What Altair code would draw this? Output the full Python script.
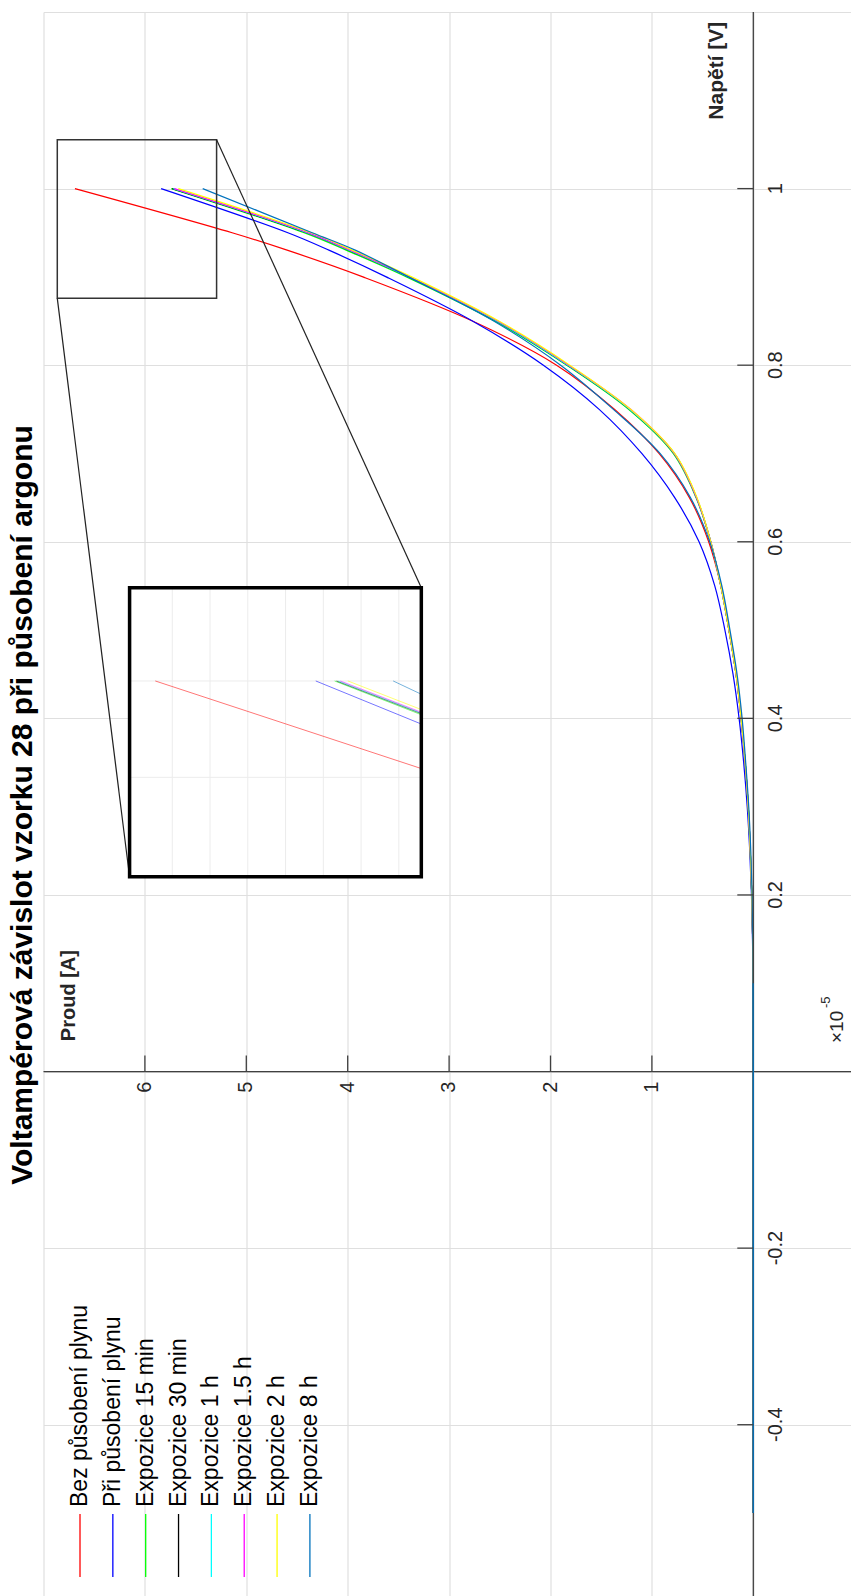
import altair as alt
import pandas as pd

# ---------------- data (current in units of 1e-5 A) ----------------
NAMES = ["Bez působení plynu", "Při působení plynu", "Expozice 15 min", "Expozice 30 min",
         "Expozice 1 h", "Expozice 1.5 h", "Expozice 2 h", "Expozice 8 h"]
COLORS = ["#ff0000", "#0000ff", "#00ff00", "#000000", "#00ffff", "#ff00ff", "#ffff00", "#0072bd"]

VOLT = [-0.5, -0.2, 0.0, 0.1, 0.15, 0.2, 0.25, 0.3, 0.35, 0.4, 0.45, 0.5, 0.55, 0.6, 0.65, 0.7,
        0.75, 0.8, 0.85, 0.9, 0.93, 0.95, 1.0]
I_RED = [0, 0, 0, 0.002, 0.006, 0.015, 0.03, 0.05, 0.08, 0.12, 0.17, 0.24, 0.32, 0.44, 0.63, 0.93,
         1.37, 1.94, 2.77, 3.85, 4.59, 5.14, 6.69]
I_BLUE = [0, 0, 0, 0.003, 0.008, 0.018, 0.035, 0.06, 0.095, 0.14, 0.20, 0.28, 0.38, 0.535, 0.775, 1.10,
          1.52, 2.07, 2.77, 3.62, 4.18, 4.59, 5.84]
I_15M = [0, 0, 0, 0.002, 0.006, 0.015, 0.03, 0.05, 0.08, 0.12, 0.17, 0.24, 0.32, 0.42, 0.565, 0.79,
         1.23, 1.84, 2.55, 3.42, 4.01, 4.43, 5.74]
I_30M = [0, 0, 0, 0.002, 0.006, 0.015, 0.03, 0.05, 0.08, 0.12, 0.17, 0.24, 0.32, 0.42, 0.56, 0.78,
         1.22, 1.83, 2.53, 3.40, 3.985, 4.405, 5.73]
I_1H = [0, 0, 0, 0.002, 0.006, 0.015, 0.03, 0.05, 0.08, 0.12, 0.17, 0.24, 0.32, 0.42, 0.56, 0.78,
        1.22, 1.83, 2.53, 3.40, 3.98, 4.40, 5.72]
I_15H = [0, 0, 0, 0.002, 0.006, 0.015, 0.03, 0.05, 0.08, 0.12, 0.17, 0.24, 0.32, 0.42, 0.56, 0.78,
         1.21, 1.82, 2.52, 3.39, 3.97, 4.39, 5.71]
I_2H = [0, 0, 0, 0.002, 0.006, 0.015, 0.03, 0.05, 0.08, 0.12, 0.17, 0.24, 0.32, 0.42, 0.555, 0.775,
        1.21, 1.81, 2.51, 3.37, 3.95, 4.36, 5.67]
I_8H = [0, 0, 0, 0.002, 0.005, 0.012, 0.025, 0.045, 0.075, 0.11, 0.16, 0.23, 0.31, 0.43, 0.62, 0.92,
        1.38, 1.90, 2.56, 3.40, 3.92, 4.35, 5.43]
SERIES = [I_RED, I_BLUE, I_15M, I_30M, I_1H, I_15H, I_2H, I_8H]

V_TICKS = [-0.4, -0.2, 0.2, 0.4, 0.6, 0.8, 1.0]
V_LABELS = ["-0.4", "-0.2", "0.2", "0.4", "0.6", "0.8", "1"]
I_TICKS = [1, 2, 3, 4, 5, 6]
I_LABELS = ["1", "2", "3", "4", "5", "6"]
V_GRID = [-0.4, -0.2, 0.0, 0.2, 0.4, 0.6, 0.8, 1.0, 1.2]
I_GRID = [0, 1, 2, 3, 4, 5, 6, 7]

TITLE = "Voltampérová závislot vzorku 28 při působení argonu"

# axes ranges
X_MIN, X_MAX = -0.9635, 7.0
Y_MIN, Y_MAX = -0.594, 1.2

# zoom box (data region) and the inset frame (in main data coordinates)
BOX_I = [5.293, 6.864]
BOX_V = [0.8757, 1.0554]
INSET_DOM_I = [5.281, 6.826]
INSET_DOM_V = [0.8984, 1.0484]
INSET_FRAME_I = [3.274, 6.151]
INSET_FRAME_V = [0.2206, 0.548]
INSET_GRID_I = [5.4, 5.6, 5.8, 6.0, 6.2, 6.4, 6.6]
INSET_GRID_V = [0.95, 1.0]

FONT = "Liberation Sans"
W, H = 807.5, 1584

XS = alt.Scale(domain=[X_MIN, X_MAX], reverse=True, nice=False, zero=False)
YS = alt.Scale(domain=[Y_MIN, Y_MAX], nice=False, zero=False)
GRID_COL = "#dfdfdf"
XA = alt.Axis(values=I_GRID, labels=False, ticks=False, domain=False, grid=True, title=None,
              gridColor=GRID_COL, gridWidth=1.2)
YA = alt.Axis(values=V_GRID, labels=False, ticks=False, domain=False, grid=True, title=None,
              gridColor=GRID_COL, gridWidth=1.2)


def X(f):
    return alt.X(f, type="quantitative", scale=XS, axis=XA)


def Y(f):
    return alt.Y(f, type="quantitative", scale=YS, axis=YA)


def XD(v):
    return alt.XDatum(v, type="quantitative", scale=XS, axis=XA)


def YD(v):
    return alt.YDatum(v, type="quantitative", scale=YS, axis=YA)


ONE = pd.DataFrame({"a": [0]})
AX_COL = "#404040"
TXT_COL = "#262626"

layers = []

# main curves
for k, vals in enumerate(SERIES):
    df = pd.DataFrame({"V": VOLT, "I": vals})
    layers.append(alt.Chart(df).mark_line(color=COLORS[k], strokeWidth=1.2,
                                          interpolate="catmull-rom").encode(
        x=X("I"), y=Y("V"), order=alt.Order("V:Q")))

# axis lines through origin
layers.append(alt.Chart(ONE).mark_rule(color=AX_COL, strokeWidth=1.3).encode(
    x=XD(0), y=YD(Y_MAX), y2=alt.Y2Datum(Y_MIN)))
layers.append(alt.Chart(ONE).mark_rule(color=AX_COL, strokeWidth=1.3).encode(
    y=YD(0), x=XD(X_MAX), x2=alt.X2Datum(X_MIN)))

# redraw the near-zero part of the last series over the axis line (as in the reference)
df_last = pd.DataFrame({"V": VOLT[:4], "I": I_8H[:4]})
layers.append(alt.Chart(df_last).mark_line(color=COLORS[-1], strokeWidth=1.2).encode(
    x=X("I"), y=Y("V"), order=alt.Order("V:Q")))

# ticks
vt = pd.DataFrame({"v": V_TICKS, "lab": V_LABELS})
it = pd.DataFrame({"i": I_TICKS, "lab": I_LABELS})
layers.append(alt.Chart(vt).mark_rule(color=AX_COL, strokeWidth=1.3, x2Offset=-16).encode(
    x=XD(0), x2=alt.X2Datum(0), y=Y("v")))
layers.append(alt.Chart(it).mark_rule(color=AX_COL, strokeWidth=1.3, y2Offset=-16).encode(
    y=YD(0), y2=alt.Y2Datum(0), x=X("i")))

# tick labels
layers.append(alt.Chart(vt).mark_text(angle=270, align="center", baseline="middle", fontSize=20,
                                      font=FONT, color=TXT_COL, xOffset=23).encode(
    x=XD(0), y=Y("v"), text="lab:N"))
layers.append(alt.Chart(it).mark_text(angle=270, align="right", baseline="middle", fontSize=20,
                                      font=FONT, color=TXT_COL, yOffset=10).encode(
    y=YD(0), x=X("i"), text="lab:N"))

# exponent label
layers.append(alt.Chart(ONE).mark_text(angle=270, align="left", baseline="middle", fontSize=19,
                                       font=FONT, color=TXT_COL, xOffset=83.7, yOffset=-28.5).encode(
    x=XD(0), y=YD(0), text=alt.value("×10")))
layers.append(alt.Chart(ONE).mark_text(angle=270, align="left", baseline="middle", fontSize=13,
                                       font=FONT, color=TXT_COL, xOffset=72.7, yOffset=-63.5).encode(
    x=XD(0), y=YD(0), text=alt.value("-5")))

# axis titles
layers.append(alt.Chart(ONE).mark_text(angle=270, align="right", baseline="middle", fontSize=21,
                                       fontWeight="bold", font=FONT, color=TXT_COL, xOffset=-36.6).encode(
    x=XD(0), y=alt.value(9.7), text=alt.value("Napětí [V]")))
layers.append(alt.Chart(ONE).mark_text(angle=270, align="right", baseline="middle", fontSize=20,
                                       fontWeight="bold", font=FONT, color=TXT_COL, xOffset=25.5,
                                       yOffset=-121.5).encode(
    x=XD(7), y=YD(0), text=alt.value("Proud [A]")))

# zoom box
layers.append(alt.Chart(ONE).mark_rect(fillOpacity=0, stroke="#333333", strokeWidth=1.5).encode(
    x=XD(BOX_I[0]), x2=alt.X2Datum(BOX_I[1]), y=YD(BOX_V[0]), y2=alt.Y2Datum(BOX_V[1])))

# connectors
conn = pd.DataFrame({"i1": [BOX_I[0], BOX_I[1]], "v1": [BOX_V[1], BOX_V[0]],
                     "i2": [INSET_FRAME_I[0], INSET_FRAME_I[1]], "v2": [INSET_FRAME_V[1], INSET_FRAME_V[0]]})
layers.append(alt.Chart(conn).mark_rule(color="#222222", strokeWidth=1.2).encode(
    x=X("i1"), x2="i2", y=Y("v1"), y2="v2"))

# inset background
layers.append(alt.Chart(ONE).mark_rect(fill="white").encode(
    x=XD(INSET_FRAME_I[0]), x2=alt.X2Datum(INSET_FRAME_I[1]),
    y=YD(INSET_FRAME_V[0]), y2=alt.Y2Datum(INSET_FRAME_V[1])))


def map_i(i):
    return INSET_FRAME_I[1] + (i - INSET_DOM_I[1]) / (INSET_DOM_I[0] - INSET_DOM_I[1]) * (
        INSET_FRAME_I[0] - INSET_FRAME_I[1])


def map_v(v):
    return INSET_FRAME_V[0] + (v - INSET_DOM_V[0]) / (INSET_DOM_V[1] - INSET_DOM_V[0]) * (
        INSET_FRAME_V[1] - INSET_FRAME_V[0])


def clip_seg(p0, p1, xmin, xmax, ymin, ymax):
    x0, y0 = p0
    x1, y1 = p1
    dx, dy = x1 - x0, y1 - y0
    t0, t1 = 0.0, 1.0
    for p, q in ((-dx, x0 - xmin), (dx, xmax - x0), (-dy, y0 - ymin), (dy, ymax - y0)):
        if p == 0:
            if q < 0:
                return None
        else:
            t = q / p
            if p < 0:
                t0 = max(t0, t)
            else:
                t1 = min(t1, t)
    if t0 > t1:
        return None
    return (x0 + t0 * dx, y0 + t0 * dy), (x0 + t1 * dx, y0 + t1 * dy)


# inset grid
ig_i = pd.DataFrame({"i": [map_i(v) for v in INSET_GRID_I]})
ig_v = pd.DataFrame({"v": [map_v(v) for v in INSET_GRID_V]})
layers.append(alt.Chart(ig_i).mark_rule(color="#ececec", strokeWidth=1).encode(
    x=X("i"), y=YD(INSET_FRAME_V[0]), y2=alt.Y2Datum(INSET_FRAME_V[1])))
layers.append(alt.Chart(ig_v).mark_rule(color="#ececec", strokeWidth=1).encode(
    y=Y("v"), x=XD(INSET_FRAME_I[0]), x2=alt.X2Datum(INSET_FRAME_I[1])))

# inset curves
for k, vals in enumerate(SERIES):
    pts = []
    for a in range(len(VOLT) - 1):
        r = clip_seg((vals[a], VOLT[a]), (vals[a + 1], VOLT[a + 1]),
                     INSET_DOM_I[0], INSET_DOM_I[1], INSET_DOM_V[0], INSET_DOM_V[1])
        if r is None:
            continue
        for p in r:
            if not pts or (abs(pts[-1][0] - p[0]) > 1e-9 or abs(pts[-1][1] - p[1]) > 1e-9):
                pts.append(p)
    if len(pts) < 2:
        continue
    df = pd.DataFrame({"I": [map_i(p[0]) for p in pts], "V": [map_v(p[1]) for p in pts],
                       "o": list(range(len(pts)))})
    layers.append(alt.Chart(df).mark_line(color=COLORS[k], strokeWidth=0.9, opacity=0.6).encode(
        x=X("I"), y=Y("V"), order=alt.Order("o:Q")))

# inset frame
layers.append(alt.Chart(ONE).mark_rect(fillOpacity=0, stroke="black", strokeWidth=3.5).encode(
    x=XD(INSET_FRAME_I[0]), x2=alt.X2Datum(INSET_FRAME_I[1]),
    y=YD(INSET_FRAME_V[0]), y2=alt.Y2Datum(INSET_FRAME_V[1])))

# legend (rotated, built from names and colours)
LEG_I0, LEG_STEP = 6.640, 0.3239
leg = pd.DataFrame({"name": NAMES, "li": [LEG_I0 - k * LEG_STEP for k in range(len(NAMES))]})
CSCALE = alt.Scale(domain=NAMES, range=COLORS)
layers.append(alt.Chart(leg).mark_rule(strokeWidth=1.3).encode(
    x=X("li"), y=alt.value(1502), y2=alt.value(1565),
    color=alt.Color("name:N", scale=CSCALE, legend=None)))
layers.append(alt.Chart(leg).mark_text(angle=270, align="left", baseline="middle", fontSize=23,
                                       font=FONT, color="black").encode(
    x=X("li"), y=alt.value(1495), text="name:N"))

# title
layers.append(alt.Chart(ONE).mark_text(angle=270, align="center", baseline="middle", fontSize=30,
                                       fontWeight="bold", font=FONT, color="black").encode(
    x=alt.value(-21), y=alt.value(793), text=alt.value(TITLE)))

chart = alt.layer(*layers).properties(
    width=W, height=H, autosize="none",
    padding={"left": 43.5, "top": 12, "right": 0, "bottom": 0},
    background="white",
).configure_view(stroke=None)

chart.save("out.html", embed_options={"renderer": "svg", "actions": False})
